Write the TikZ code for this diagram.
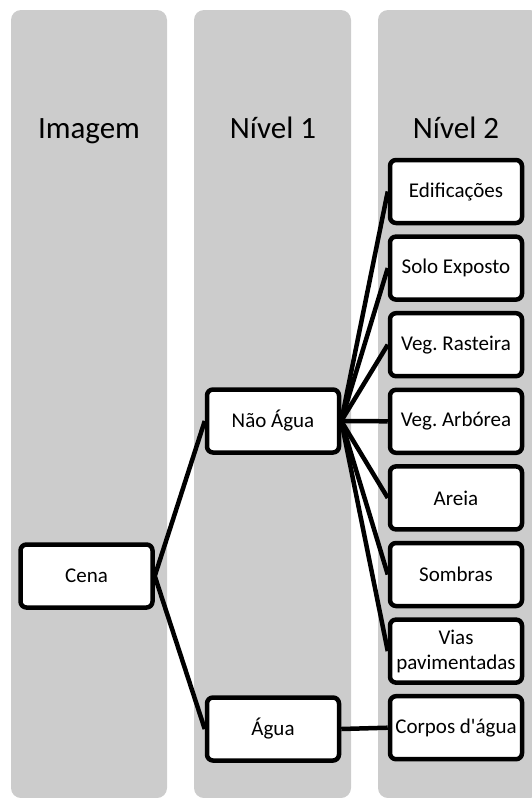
\documentclass[tikz,border=0pt]{standalone}
\usepackage{fontspec}
\setmainfont{Carlito}
\usepackage{xcolor}
\definecolor{cinza}{RGB}{204,204,204}
\frenchspacing

\begin{document}
\begin{tikzpicture}[x=1pt, y=-1pt,
  every node/.style={draw, line width=4.5pt, rounded corners=6pt, fill=white,
    minimum width=132pt, minimum height=63pt, align=center,
    font=\fontsize{21}{25}\selectfont},
  titulo/.style={draw=none, fill=none, anchor=base, font=\fontsize{31}{36}\selectfont}]
  \useasboundingbox (0,0) rectangle (531,798);

  % Colunas de fundo
  \fill[cinza, rounded corners=10pt] (11,10) rectangle (167,798);
  \fill[cinza, rounded corners=10pt] (194,10) rectangle (351,798);
  \fill[cinza, rounded corners=10pt] (378,10) rectangle (540,798);

  % Titulos
  \node[titulo] (timagem) at (89,138) {Imagem};
  \node[titulo] (tnivel1) at (273,138) {Nível 1};
  \node[titulo] (tnivel2) at (456,138) {Nível 2};

  % Imagem
  \node (cena) at (86.5,576) {Cena};

  % Nivel 1
  \node (naoagua) at (273,421) {Não Água};
  \node (agua) at (273,729) {Água};

  % Nivel 2
  \node (edif) at (456,191.5) {Edificações};
  \node (solo) at (456,268.1) {Solo Exposto};
  \node (vegras) at (456,344.7) {Veg. Rasteira};
  \node (vegarb) at (456,421.3) {Veg. Arbórea};
  \node (areia) at (456,497.9) {Areia};
  \node (sombras) at (456,574.5) {Sombras};
  \node (vias) at (456,651.1) {Vias\\pavimentadas};
  \node (corpos) at (456,727.7) {Corpos d\textquotesingle água};

  % Ligacoes
  \draw[line width=4.5pt] (cena.east) -- (naoagua.west);
  \draw[line width=4.5pt] (cena.east) -- (agua.west);

  \draw[line width=4.5pt] (naoagua.east) -- (edif.west);
  \draw[line width=4.5pt] (naoagua.east) -- (solo.west);
  \draw[line width=4.5pt] (naoagua.east) -- (vegras.west);
  \draw[line width=4.5pt] (naoagua.east) -- (vegarb.west);
  \draw[line width=4.5pt] (naoagua.east) -- (areia.west);
  \draw[line width=4.5pt] (naoagua.east) -- (sombras.west);
  \draw[line width=4.5pt] (naoagua.east) -- (vias.west);

  \draw[line width=4.5pt] (agua.east) -- (corpos.west);
\end{tikzpicture}
\end{document}
